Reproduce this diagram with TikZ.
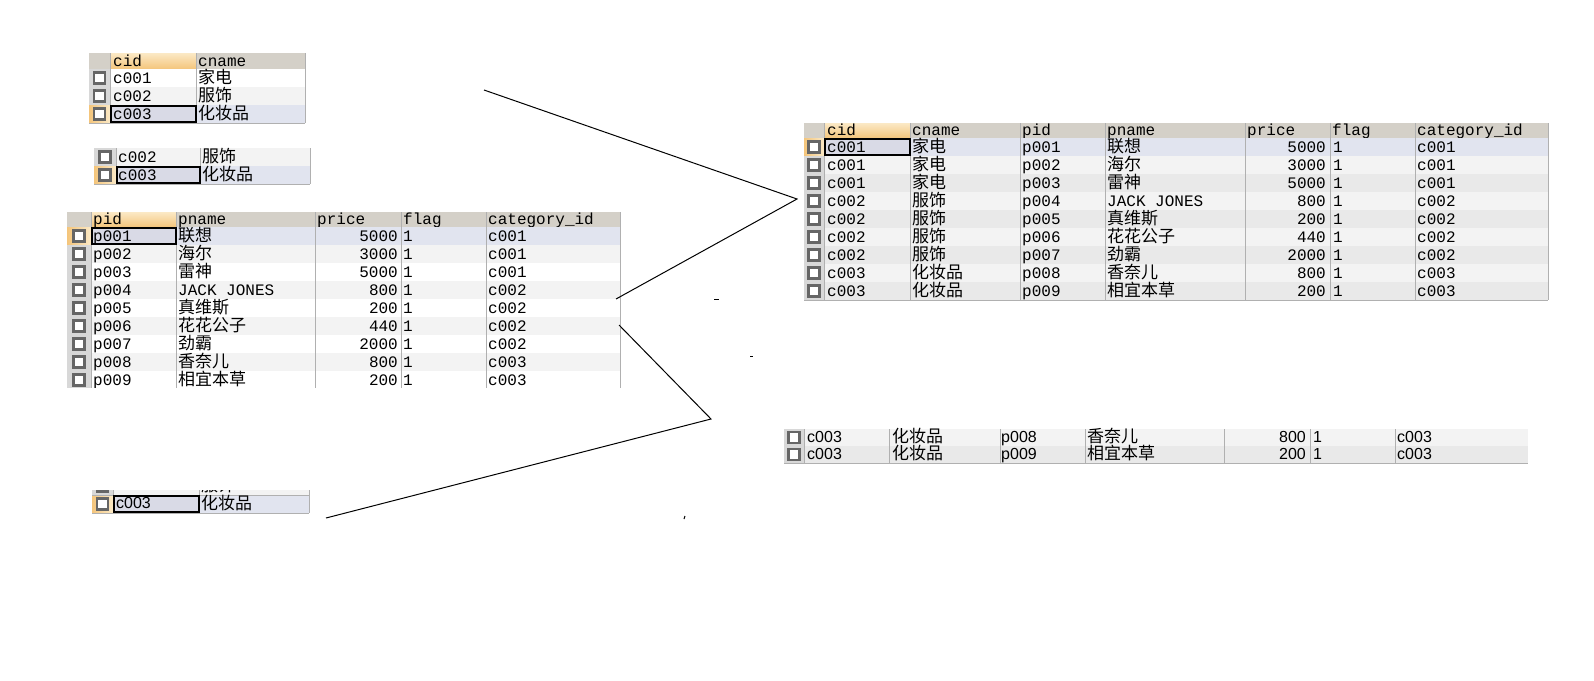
\documentclass[tikz,border=0pt]{standalone}
\usepackage{fontspec}
\setmonofont{Liberation Mono}
\setsansfont{Liberation Sans}
\newfontfamily\cjk{Noto Sans CJK SC}
\newcommand\enname{\ttfamily\fontsize{16}{16}\selectfont}
\definecolor{hdrbg}{HTML}{D4D0C8}
\definecolor{gridc}{HTML}{B0B0B0}
\definecolor{rowa}{HTML}{F3F3F3}
\definecolor{rowb}{HTML}{E9E9E9}
\definecolor{selrow}{HTML}{E1E4EF}
\definecolor{selcell}{HTML}{D9DAE6}
\definecolor{sorttop}{HTML}{FBE9C6}
\definecolor{sortbot}{HTML}{F4C57B}
\definecolor{boxc}{HTML}{666666}
\definecolor{indbg}{HTML}{D8D8D8}
\begin{document}
\begin{tikzpicture}[x=1pt, y=-1pt,
        gridline/.style={draw=gridc, line width=1pt},
        txt/.style={anchor=base west, inner sep=0pt, font=\ttfamily\fontsize{16}{16}\selectfont},
        num/.style={txt, anchor=base east},
        han/.style={anchor=base west, inner sep=0pt, font=\cjk\fontsize{17}{17}\selectfont},
        sans/.style={anchor=base west, inner sep=0pt, font=\sffamily\fontsize{16}{16}\selectfont},
        sansnum/.style={sans, anchor=base east},
        chk/.style={draw=boxc, line width=2.5pt, fill=white, minimum size=11pt, inner sep=0pt},
        curcell/.style={draw=black, line width=2pt, fill=selcell},
        sorted/.style={top color=sorttop, bottom color=sortbot},
        curind/.style={left color=sortbot, right color=sorttop},
        link/.style={line width=1pt}]
        \fill[white] (0,0) rectangle (1594,680);
        \useasboundingbox (0,0) rectangle (1594,680);
        % category
        \fill[hdrbg] (89,53) rectangle (305,69);
        \shade[sorted] (110,53) rectangle (196,69);
        \foreach \x in {110,196,305} \draw[gridline] (\x,53) -- (\x,69);
        \draw[gridline] (89,69) -- (305,69);
        \node[txt] (a-cid) at (113,66) {cid};
        \node[txt] (a-cname) at (198,66) {cname};
        \foreach \id/\nm/\bg/\s [count=\i] in {c001/家电/white/0, c002/服饰/rowa/0, c003/化妆品/selrow/1} {
            \pgfmathsetmacro\y{51+18*\i}
            \fill[\bg] (110,\y) rectangle (305,\y+18);
            \foreach \x in {110,196,305} \draw[gridline] (\x,\y) -- (\x,\y+18);
            \ifnum\s=1 \shade[curind] (89,\y) rectangle (110,\y+18);
                \draw[curcell] (111,\y+1) rectangle (196,\y+17);
            \else \fill[indbg] (89,\y) rectangle (110,\y+18); \fi
            \node[chk] (a-box\i) at (99.5,\y+9) {};
            \node[txt] (a-id\i) at (113,\y+14) {\id};
            \node[han] (a-nm\i) at (198,\y+14) {\nm};
            \draw[gridline] (89,\y+18) -- (305,\y+18);
        }
        % category, two rows
        \draw[gridline] (94,148) -- (310,148);
        \foreach \id/\nm/\bg/\s [count=\i] in {c002/服饰/rowa/0, c003/化妆品/selrow/1} {
            \pgfmathsetmacro\y{130+18*\i}
            \fill[\bg] (116,\y) rectangle (310,\y+18);
            \foreach \x in {116,200,310} \draw[gridline] (\x,\y) -- (\x,\y+18);
            \ifnum\s=1 \shade[curind] (94,\y) rectangle (116,\y+18);
                \draw[curcell] (117,\y+1) rectangle (200,\y+17);
            \else \fill[indbg] (94,\y) rectangle (116,\y+18); \fi
            \node[chk] (b-box\i) at (105,\y+9) {};
            \node[txt] (b-id\i) at (118,\y+14) {\id};
            \node[han] (b-nm\i) at (202,\y+14) {\nm};
            \draw[gridline] (94,\y+18) -- (310,\y+18);
        }
        % product
        \begin{scope}
            \clip (60,200) rectangle (630,387);
            \fill[hdrbg] (67,212) rectangle (620,227);
            \shade[sorted] (91,212) rectangle (176,227);
            \foreach \x in {91,176,315,401,486,620} \draw[gridline] (\x,212) -- (\x,227);
            \draw[gridline] (67,227) -- (620,227);
            \node[txt] (c-pid) at (93,224) {pid};
            \node[txt] (c-pname) at (178,224) {pname};
            \node[txt] (c-price) at (317,224) {price};
            \node[txt] (c-flag) at (403,224) {flag};
            \node[txt] (c-cat) at (488,224) {category\_id};
            \foreach \id/\nm/\pr/\ct/\bg/\s [count=\i] in {
                p001/联想/5000/c001/selrow/1, p002/海尔/3000/c001/rowa/0,
                p003/雷神/5000/c001/white/0, p004/{\enname JACK JONES}/800/c002/rowa/0,
                p005/真维斯/200/c002/white/0, p006/花花公子/440/c002/rowa/0,
                p007/劲霸/2000/c002/white/0, p008/香奈儿/800/c003/rowa/0,
                p009/相宜本草/200/c003/white/0} {
                \pgfmathsetmacro\y{209+18*\i}
                \fill[\bg] (91,\y) rectangle (620,\y+18);
                \foreach \x in {91,176,315,401,486,620} \draw[gridline] (\x,\y) -- (\x,\y+18);
                \ifnum\s=1 \shade[curind] (67,\y) rectangle (91,\y+18);
                    \draw[curcell] (92,\y+1) rectangle (176,\y+17);
                \else \fill[indbg] (67,\y) rectangle (91,\y+18); \fi
                \node[chk] (c-box\i) at (79,\y+9) {};
                \node[txt] (c-id\i) at (93,\y+14) {\id};
                \node[han] (c-nm\i) at (178,\y+14) {\nm};
                \node[num] (c-pr\i) at (398,\y+14) {\pr};
                \node[txt] (c-fl\i) at (403,\y+14) {1};
                \node[txt] (c-ct\i) at (488,\y+14) {\ct};
                \draw[gridline] (67,\y+18) -- (620,\y+18);
            }
        \end{scope}
        % join result
        \fill[hdrbg] (804,123) rectangle (1548,138);
        \shade[sorted] (824,123) rectangle (910,138);
        \foreach \x in {824,910,1020,1105,1245,1330,1415,1548} \draw[gridline] (\x,123) -- (\x,138);
        \draw[gridline] (804,138) -- (1548,138);
        \node[txt] (d-cid) at (827,135.5) {cid};
        \node[txt] (d-cname) at (912,135.5) {cname};
        \node[txt] (d-pid) at (1022,135.5) {pid};
        \node[txt] (d-pname) at (1107,135.5) {pname};
        \node[txt] (d-price) at (1247,135.5) {price};
        \node[txt] (d-flag) at (1332,135.5) {flag};
        \node[txt] (d-cat) at (1417,135.5) {category\_id};
        \foreach \ci/\cn/\id/\nm/\pr/\ct/\bg/\s [count=\i] in {
            c001/家电/p001/联想/5000/c001/selrow/1, c001/家电/p002/海尔/3000/c001/rowa/0,
            c001/家电/p003/雷神/5000/c001/rowb/0, c002/服饰/p004/{\enname JACK JONES}/800/c002/rowa/0,
            c002/服饰/p005/真维斯/200/c002/rowb/0, c002/服饰/p006/花花公子/440/c002/rowa/0,
            c002/服饰/p007/劲霸/2000/c002/rowb/0, c003/化妆品/p008/香奈儿/800/c003/rowa/0,
            c003/化妆品/p009/相宜本草/200/c003/rowb/0} {
            \pgfmathsetmacro\y{120+18*\i}
            \fill[\bg] (824,\y) rectangle (1548,\y+18);
            \foreach \x in {824,910,1020,1105,1245,1330,1415,1548} \draw[gridline] (\x,\y) -- (\x,\y+18);
            \ifnum\s=1 \shade[curind] (804,\y) rectangle (824,\y+18);
                \draw[curcell] (825,\y+1) rectangle (910,\y+17);
            \else \fill[indbg] (804,\y) rectangle (824,\y+18); \fi
            \node[chk] (d-box\i) at (814,\y+9) {};
            \node[txt] (d-ci\i) at (827,\y+14) {\ci};
            \node[han] (d-cn\i) at (912,\y+14) {\cn};
            \node[txt] (d-id\i) at (1022,\y+14) {\id};
            \node[han] (d-nm\i) at (1107,\y+14) {\nm};
            \node[num] (d-pr\i) at (1326,\y+14) {\pr};
            \node[txt] (d-fl\i) at (1333,\y+14) {1};
            \node[txt] (d-ct\i) at (1417,\y+14) {\ct};
            \draw[gridline] (804,\y+18) -- (1548,\y+18);
        }
        % join result, c003 only
        \foreach \nm/\id/\pr/\bg [count=\i] in {香奈儿/p008/800/rowa, 相宜本草/p009/200/rowb} {
            \pgfmathsetmacro\y{412+17*\i}
            \fill[\bg] (804,\y) rectangle (1528,\y+17);
            \fill[indbg] (784,\y) rectangle (804,\y+17);
            \foreach \x in {804,889,1000,1085,1224,1310,1395} \draw[gridline] (\x,\y) -- (\x,\y+17);
            \node[chk] (e-box\i) at (794,\y+8.5) {};
            \node[sans] (e-ci\i) at (807,\y+13.5) {c003};
            \node[han] (e-cn\i) at (892,\y+13.5) {化妆品};
            \node[sans] (e-id\i) at (1001,\y+13.5) {\id};
            \node[han] (e-nm\i) at (1087,\y+13.5) {\nm};
            \node[sansnum] (e-pr\i) at (1306,\y+13.5) {\pr};
            \node[sans] (e-fl\i) at (1313,\y+13.5) {1};
            \node[sans] (e-ct\i) at (1397,\y+13.5) {c003};
            \draw[gridline] (784,\y+17) -- (1528,\y+17);
        }
        % category, c003 only
        \begin{scope}
            \clip (92,490) rectangle (309,495);
            \fill[rowa] (113,477) rectangle (309,495);
            \fill[indbg] (92,477) rectangle (113,495);
            \node[chk] (f-box0) at (102.5,486) {};
            \node[han] (f-nm0) at (201,491) {服饰};
        \end{scope}
        \fill[selrow] (113,495) rectangle (309,513);
        \shade[curind] (92,495) rectangle (113,513);
        \foreach \x in {113,199,309} \draw[gridline] (\x,490) -- (\x,513);
        \draw[gridline] (92,495) -- (309,495);
        \draw[gridline] (92,513) -- (309,513);
        \draw[curcell] (114,496) rectangle (199,512);
        \node[chk] (f-box1) at (102.5,504) {};
        \node[sans] (f-id1) at (116,508.5) {c003};
        \node[han] (f-nm1) at (201,509) {化妆品};
        % connectors
        \coordinate (join-in) at (484,90);
        \coordinate (join-tip) at (797,199);
        \coordinate (join-out) at (616,299);
        \coordinate (where-in) at (619,325);
        \coordinate (where-tip) at (711,419);
        \coordinate (where-out) at (326,518);
        \draw[link] (join-in) -- (join-tip) -- (join-out);
        \draw[link] (where-in) -- (where-tip) -- (where-out);
        \draw[link] (714,299) -- (719,299);
        \draw[link] (750,356) -- (753,356);
        \draw[link] (685,516) -- (684,519);
    \end{tikzpicture}
\end{document}
